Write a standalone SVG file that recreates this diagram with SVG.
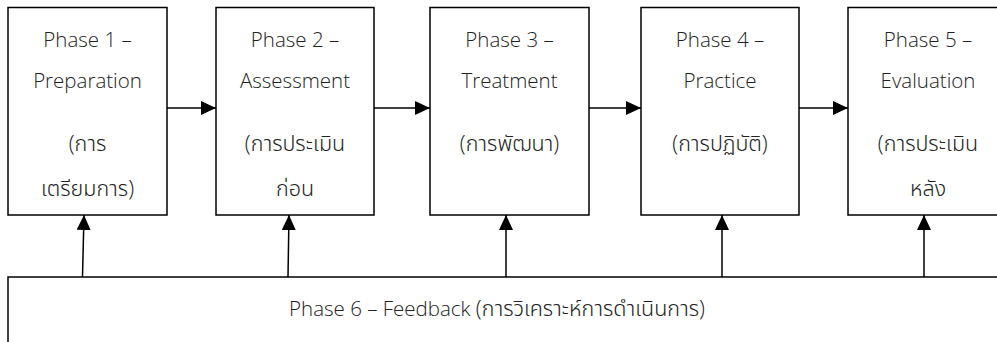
<svg xmlns="http://www.w3.org/2000/svg" width="997" height="342" viewBox="0 0 997 342">
<defs>
<marker id="ah" markerWidth="15" markerHeight="14" refX="15" refY="7" orient="auto" markerUnits="userSpaceOnUse">
<path d="M0,0 L15,7 L0,14 Z" fill="#000"/>
</marker>
<style>
.box{fill:#fff;stroke:#000;stroke-width:1.5}
.t{font-family:"Open Sans","Noto Sans","Noto Sans Thai",sans-serif;font-weight:300;font-size:20.5px;fill:#222;text-anchor:middle}
.th{font-size:21.5px}
.c{stroke:#000;stroke-width:1.5;fill:none;marker-end:url(#ah)}
</style>
</defs>
<rect width="997" height="342" fill="#fff"/>
<g id="n1"><rect class="box" x="8" y="7.5" width="159" height="207.5"/>
<text class="t" x="87.5" y="47">Phase 1 –</text><text class="t" x="87.5" y="88">Preparation</text><text class="t th" x="87.5" y="151">(การ</text><text class="t th" x="87.5" y="196">เตรียมการ)</text></g>
<g id="n2"><rect class="box" x="216" y="7.5" width="158" height="207.5"/>
<text class="t" x="295" y="47">Phase 2 –</text><text class="t" x="295" y="88">Assessment</text><text class="t th" x="295" y="151">(การประเมิน</text><text class="t th" x="295" y="196">ก่อน</text></g>
<g id="n3"><rect class="box" x="430" y="7.5" width="159" height="207.5"/>
<text class="t" x="509.5" y="47">Phase 3 –</text><text class="t" x="509.5" y="88">Treatment</text><text class="t th" x="509.5" y="151">(การพัฒนา)</text></g>
<g id="n4"><rect class="box" x="641" y="7.5" width="158" height="207.5"/>
<text class="t" x="720" y="47">Phase 4 –</text><text class="t" x="720" y="88">Practice</text><text class="t th" x="720" y="151">(การปฏิบัติ)</text></g>
<g id="n5"><rect class="box" x="848" y="7.5" width="160" height="207.5"/>
<text class="t" x="928" y="47">Phase 5 –</text><text class="t" x="928" y="88">Evaluation</text><text class="t th" x="928" y="151">(การประเมิน</text><text class="t th" x="928" y="196">หลัง</text></g>
<g id="n6"><rect class="box" x="8" y="277" width="1000" height="80"/>
<text class="t" x="497" y="316">Phase 6 – Feedback <tspan class="th">(การวิเคราะห์การดำเนินการ)</tspan></text></g>
<g id="connectors">
<line class="c" x1="82.5" y1="277" x2="84" y2="215"/>
<line class="c" x1="288" y1="277" x2="289" y2="215"/>
<line class="c" x1="506" y1="277" x2="506" y2="215"/>
<line class="c" x1="722" y1="277" x2="722" y2="215"/>
<line class="c" x1="924" y1="277" x2="924" y2="215"/>
<line class="c" x1="167" y1="108" x2="216" y2="108"/>
<line class="c" x1="374" y1="108" x2="430" y2="108"/>
<line class="c" x1="589" y1="108" x2="641" y2="108"/>
<line class="c" x1="799" y1="108" x2="848" y2="108"/>
</g>
</svg>
